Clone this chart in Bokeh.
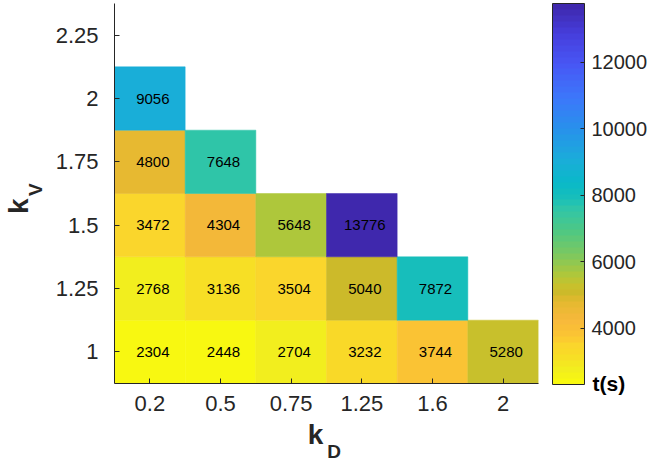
import numpy as np
from bokeh.plotting import figure
from bokeh.models import (LinearColorMapper, ColorBar, FixedTicker,
                          ColumnDataSource, LinearAxis)
from bokeh.transform import transform
from bokeh.core.properties import value
from bokeh.embed import file_html
from bokeh.resources import INLINE

# ---------------- data ----------------
kD_labels = ["0.2", "0.5", "0.75", "1.25", "1.6", "2"]
kV_labels = ["1", "1.25", "1.5", "1.75", "2", "2.25"]
cell_kD = [1, 2, 3, 4, 5, 6, 1, 2, 3, 4, 5, 1, 2, 3, 4, 1, 2, 1]
cell_kV = [1, 1, 1, 1, 1, 1, 2, 2, 2, 2, 2, 3, 3, 3, 3, 4, 4, 5]
t_values = [2304, 2448, 2704, 3232, 3744, 5280,
            2768, 3136, 3504, 5040, 7872,
            3472, 4304, 5648, 13776,
            4800, 7648,
            9056]
cbar_ticks = [4000, 6000, 8000, 10000, 12000]

# ------------- colormap (flipped parula-like, 64 levels) -------------
anchor_pos = [0.00, 0.08, 0.16, 0.25, 0.33, 0.41, 0.47, 0.515, 0.535, 0.60,
              0.66, 0.71, 0.74, 0.76, 0.78, 0.83, 0.875, 0.90, 0.92, 0.96, 1.00]
anchor_rgb = [(62, 38, 168), (70, 62, 220), (72, 87, 245), (60, 120, 250),
              (40, 145, 235), (26, 173, 217), (10, 185, 200), (25, 191, 184),
              (45, 197, 171), (80, 200, 130), (125, 200, 95), (173, 199, 60),
              (200, 193, 44), (204, 185, 42), (228, 185, 46), (247, 184, 60),
              (251, 197, 50), (250, 215, 44), (248, 218, 39), (242, 238, 30),
              (249, 251, 14)]
n_levels = 64
pos = (np.arange(n_levels) + 0.5) / n_levels
arr = np.array(anchor_rgb, dtype=float)
palette_parula = []
for q in pos:
    r = np.interp(q, anchor_pos, arr[:, 0])
    g = np.interp(q, anchor_pos, arr[:, 1])
    b = np.interp(q, anchor_pos, arr[:, 2])
    palette_parula.append("#%02x%02x%02x" % (int(round(r)), int(round(g)), int(round(b))))
palette = palette_parula[::-1]  # low values -> yellow

mapper = LinearColorMapper(palette=palette, low=min(t_values), high=max(t_values))

src = ColumnDataSource(dict(x=cell_kD, y=cell_kV, t=t_values,
                            txt=[str(v) for v in t_values]))

FONT = "Liberation Sans"
INK = "#262626"

p = figure(width=650, height=464, output_backend="svg", toolbar_location=None,
           x_range=(0.5, 6.5), y_range=(0.5, 6.5),
           min_border_left=113, min_border_right=112,
           min_border_top=3, min_border_bottom=80)
p.outline_line_color = None
p.grid.visible = False
p.background_fill_color = "white"
p.border_fill_color = "white"

p.rect(x="x", y="y", width=1, height=1, source=src,
       fill_color=transform("t", mapper), line_color=transform("t", mapper),
       line_width=0.5)
p.text(x="x", y="y", text="txt", source=src, text_align="center",
       text_baseline="middle", text_font=value(FONT), text_font_size="15px",
       text_color="black", x_offset=3)

for ax, labels in ((p.xaxis[0], kD_labels), (p.yaxis[0], kV_labels)):
    ax.ticker = FixedTicker(ticks=list(range(1, len(labels) + 1)))
    ax.major_label_overrides = {i + 1: lab for i, lab in enumerate(labels)}
    ax.major_tick_in = 5
    ax.major_tick_out = 0
    ax.minor_tick_line_color = None
    ax.axis_line_color = INK
    ax.major_tick_line_color = INK
    ax.major_label_text_color = INK
    ax.major_label_text_font = FONT
    ax.major_label_text_font_size = "22px"
p.xaxis.major_label_standoff = 12
p.yaxis.major_label_standoff = 16


def text_axis(tick, label, size, standoff, orientation="horizontal",
              color=INK):
    """An axis with no line and no tick marks, used only to print a label."""
    return LinearAxis(ticker=FixedTicker(ticks=[tick]),
                      major_label_overrides={tick: label},
                      axis_line_color=None, major_tick_line_color=None,
                      minor_tick_line_color=None, major_tick_in=0,
                      major_tick_out=0, major_label_standoff=standoff,
                      major_label_text_font=FONT,
                      major_label_text_font_size=size,
                      major_label_text_font_style="bold",
                      major_label_text_color=color,
                      major_label_orientation=orientation)


# x label  k_D
p.add_layout(text_axis(3.345, "k", "28px", 5), "below")
p.add_layout(text_axis(3.606, "D", "19px", -12), "below")
# y label  k_V  (reads upwards)
p.add_layout(text_axis(3.56, "V", "19px", 6, "parallel"), "left")
p.add_layout(text_axis(3.30, "k", "28px", -12, "parallel"), "left")

# spacer between plot and colour bar
spacer = LinearAxis(ticker=FixedTicker(ticks=[1]), major_label_overrides={1: ""},
                    axis_line_color=None, major_tick_line_color=None,
                    minor_tick_line_color=None, major_tick_in=0,
                    major_tick_out=14, major_label_standoff=0)
p.add_layout(spacer, "right")

cb = ColorBar(color_mapper=mapper, width=32, height=381, padding=0, margin=0,
              ticker=FixedTicker(ticks=cbar_ticks),
              major_label_text_font=FONT, major_label_text_font_size="20px",
              major_label_text_color=INK, major_tick_in=4, major_tick_out=0,
              major_tick_line_color=INK, minor_tick_line_color=None,
              bar_line_color=INK, bar_line_width=1, label_standoff=7,
              border_line_color=None, background_fill_color=None)
p.add_layout(cb, "right")

# colour bar unit  t(s), printed at the bottom end of the bar
p.add_layout(text_axis(0.5, "t(s)", "21px", -58, color="black"), "right")

open("out.html", "w").write(file_html(p, INLINE))
